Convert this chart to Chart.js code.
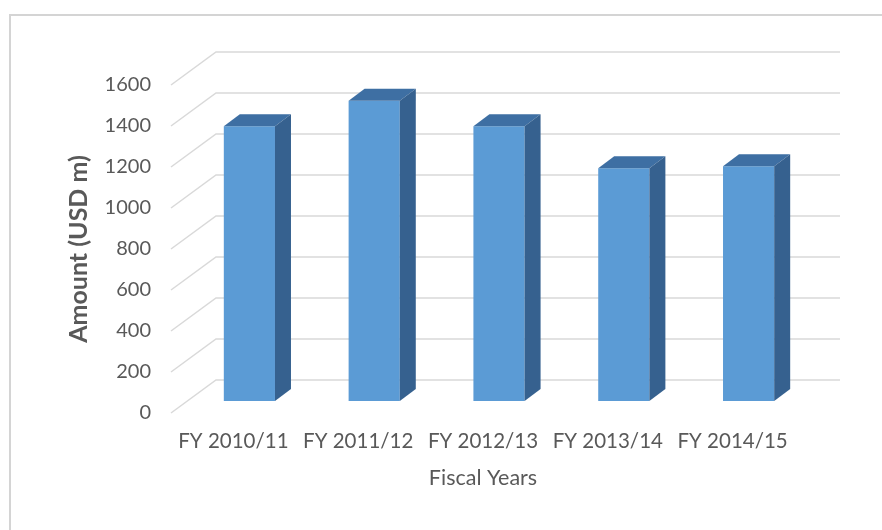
<!DOCTYPE html>
<html>
<head>
<meta charset="utf-8">
<script src="https://cdn.jsdelivr.net/npm/chart.js@4.4.1/dist/chart.umd.min.js"></script>
<style>
  html, body { margin: 0; padding: 0; background: #fff; }
  #wrap { width: 882px; height: 530px; }
</style>
</head>
<body>
<div id="wrap"><canvas id="chart" width="882" height="530"></canvas></div>
<script>
// data
const fiscalYears = ["FY 2010/11", "FY 2011/12", "FY 2012/13", "FY 2013/14", "FY 2014/15"];
const amounts = [1340, 1465, 1340, 1135, 1145];
const yTicks = [0, 200, 400, 600, 800, 1000, 1200, 1400, 1600];

// 3d look: back wall offset and bar depth offset
const wallDx = 45, wallDy = -33;
const barDx = 16, barDy = -12;

const textColor = "#595959";
const gridColor = "#d9d9d9";

// frame + white bg
const framePlugin = {
  id: "frame",
  beforeDraw(chart) {
    const ctx = chart.ctx;
    ctx.save();
    ctx.fillStyle = "#fff";
    ctx.fillRect(0, 0, chart.width, chart.height);
    ctx.strokeStyle = "#d4d4d4";
    ctx.lineWidth = 2;
    ctx.strokeRect(10, 15, 900, 560);
    ctx.restore();
  }
};

// perspective gridlines (floor diagonal + back wall)
const wallPlugin = {
  id: "wall",
  beforeDatasetsDraw(chart) {
    const ctx = chart.ctx;
    const y = chart.scales.y;
    const area = chart.chartArea;
    ctx.save();
    ctx.strokeStyle = gridColor;
    ctx.lineWidth = 1.5;
    y.ticks.forEach(t => {
      const py = y.getPixelForValue(t.value);
      ctx.beginPath();
      ctx.moveTo(area.left, py);
      ctx.lineTo(area.left + wallDx, py + wallDy);
      ctx.lineTo(area.right + wallDx, py + wallDy);
      ctx.stroke();
    });
    ctx.restore();
  }
};

// shift bars into the box and add top + side faces
const barPlugin = {
  id: "bars3d",
  beforeDatasetsDraw(chart) {
    chart.ctx.save();
    chart.ctx.translate(barDx, barDy);
  },
  afterDatasetsDraw(chart) {
    const ctx = chart.ctx;
    chart.getDatasetMeta(0).data.forEach(bar => {
      const x0 = bar.x - bar.width / 2;
      const x1 = bar.x + bar.width / 2;
      const top = bar.y, base = bar.base;
      ctx.fillStyle = "#3e6fa3";
      ctx.beginPath();
      ctx.moveTo(x0, top);
      ctx.lineTo(x0 + barDx, top + barDy);
      ctx.lineTo(x1 + barDx, top + barDy);
      ctx.lineTo(x1, top);
      ctx.closePath();
      ctx.fill();
      ctx.fillStyle = "#36618f";
      ctx.beginPath();
      ctx.moveTo(x1, top);
      ctx.lineTo(x1 + barDx, top + barDy);
      ctx.lineTo(x1 + barDx, base + barDy);
      ctx.lineTo(x1, base);
      ctx.closePath();
      ctx.fill();
    });
    ctx.restore();
  }
};

new Chart(document.getElementById("chart"), {
  type: "bar",
  data: {
    labels: fiscalYears,
    datasets: [{
      label: "Amount (USD m)",
      data: amounts,
      backgroundColor: "#5b9bd5",
      categoryPercentage: 1,
      barPercentage: 0.41
    }]
  },
  options: {
    responsive: false,
    animation: false,
    events: [],
    layout: { padding: { top: 85, right: 87, bottom: 39, left: 60 } },
    plugins: { legend: { display: false }, tooltip: { enabled: false } },
    scales: {
      x: {
        grid: { display: false, drawTicks: false },
        border: { display: false },
        ticks: { color: textColor, font: { family: "Lato", size: 20.5 }, padding: 16, maxRotation: 0 },
        title: { display: true, text: "Fiscal Years", color: textColor, font: { family: "Lato", size: 21.5 }, padding: { top: 8, bottom: 0 } },
        afterFit(scale) { scale.height = 78; }
      },
      y: {
        min: 0,
        max: 1600,
        afterBuildTicks(scale) { scale.ticks = yTicks.map(v => ({ value: v })); },
        grid: { display: false, drawTicks: false },
        border: { display: false },
        ticks: { color: textColor, font: { family: "Lato", size: 20 }, padding: 20, callback: v => String(v) },
        title: { display: true, text: "Amount (USD m)", color: textColor, font: { family: "Lato", size: 25, weight: "bold" }, padding: { top: 4, bottom: 0 } },
        afterFit(scale) { scale.width = 111; }
      }
    }
  },
  plugins: [framePlugin, wallPlugin, barPlugin]
});
</script>
</body>
</html>
